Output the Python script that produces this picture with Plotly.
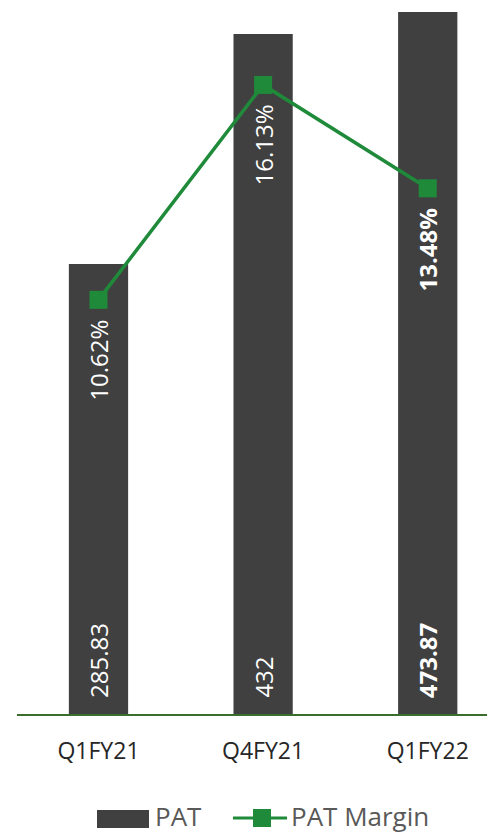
import plotly.graph_objects as go

# Quarterly profit after tax and margin
quarters = ["Q1FY21", "Q4FY21", "Q1FY22"]
pat_values = [285.83, 432, 473.87]
pat_labels = ["285.83", "432", "473.87"]
margin_values = [10.62, 16.13, 13.48]
margin_labels = ["10.62%", "16.13%", "13.48%"]
bold_flags = [False, False, True]

BAR_COLOR = "#404040"
GREEN = "#1f8b3a"
AXIS_GREEN = "#3b6e2c"
FONT = "Open Sans, Segoe UI, sans-serif"

W, H = 487, 834
ML, MR, MT, MB = 17, 0, 12, 120
PW, PH = W - ML - MR, H - MT - MB


def px_x(px):
    return (px - ML) / PW


def px_y(py):
    return (H - MB - py) / PH


fig = go.Figure()

fig.add_trace(go.Bar(
    x=quarters, y=pat_values, name="PAT",
    marker=dict(color=BAR_COLOR, line=dict(width=0)),
    width=0.36, showlegend=False, hoverinfo="x+y",
))

fig.add_trace(go.Scatter(
    x=quarters, y=margin_values, name="PAT Margin", yaxis="y2",
    mode="lines+markers",
    line=dict(color=GREEN, width=3.5),
    marker=dict(symbol="square", size=18, color=GREEN),
    showlegend=False,
))

annotations = []
for q, lab, b in zip(quarters, pat_labels, bold_flags):
    annotations.append(dict(
        x=q, y=0, xref="x", yref="y", yanchor="bottom", xanchor="center",
        yshift=14, textangle=-90, showarrow=False,
        text=f"<b>{lab}</b>" if b else lab,
        font=dict(family=FONT, size=24, color="white"),
    ))
for q, v, lab, b in zip(quarters, margin_values, margin_labels, bold_flags):
    annotations.append(dict(
        x=q, y=v, xref="x", yref="y2", yanchor="top", xanchor="center",
        yshift=-18, textangle=-90, showarrow=False,
        text=f"<b>{lab}</b>" if b else lab,
        font=dict(family=FONT, size=24, color="white"),
    ))

# Legend drawn below the axis
legend_y = px_y(816)
annotations.append(dict(
    x=px_x(153), y=legend_y, xref="paper", yref="paper",
    xanchor="left", yanchor="middle", showarrow=False, text="PAT",
    font=dict(family=FONT, size=26, color="#595959"),
))
annotations.append(dict(
    x=px_x(289), y=legend_y, xref="paper", yref="paper",
    xanchor="left", yanchor="middle", showarrow=False, text="PAT Margin",
    font=dict(family=FONT, size=26, color="#595959"),
))

shapes = [
    dict(type="rect", xref="paper", yref="paper",
         x0=px_x(97), x1=px_x(149), y0=px_y(828), y1=px_y(810),
         fillcolor=BAR_COLOR, line=dict(width=0)),
    dict(type="line", xref="paper", yref="paper",
         x0=px_x(233), x1=px_x(287), y0=px_y(818), y1=px_y(818),
         line=dict(color=GREEN, width=3)),
    dict(type="rect", xref="paper", yref="paper",
         x0=px_x(253), x1=px_x(271), y0=px_y(827), y1=px_y(809),
         fillcolor=GREEN, line=dict(width=0)),
]

fig.update_layout(
    width=W, height=H,
    margin=dict(l=ML, r=MR, t=MT, b=MB, pad=0),
    paper_bgcolor="white", plot_bgcolor="white",
    showlegend=False,
    font=dict(family=FONT),
    xaxis=dict(
        range=[-0.495, 2.36], showgrid=False, zeroline=False,
        showline=True, linecolor=AXIS_GREEN, linewidth=2,
        ticks="", tickfont=dict(family=FONT, size=23, color="#262626"),
        ticklabelstandoff=15,
    ),
    yaxis=dict(range=[0, 446], visible=False, showgrid=False),
    yaxis2=dict(range=[0, 18], overlaying="y", visible=False, showgrid=False),
    annotations=annotations,
    shapes=shapes,
)

fig.write_html("out.html")
